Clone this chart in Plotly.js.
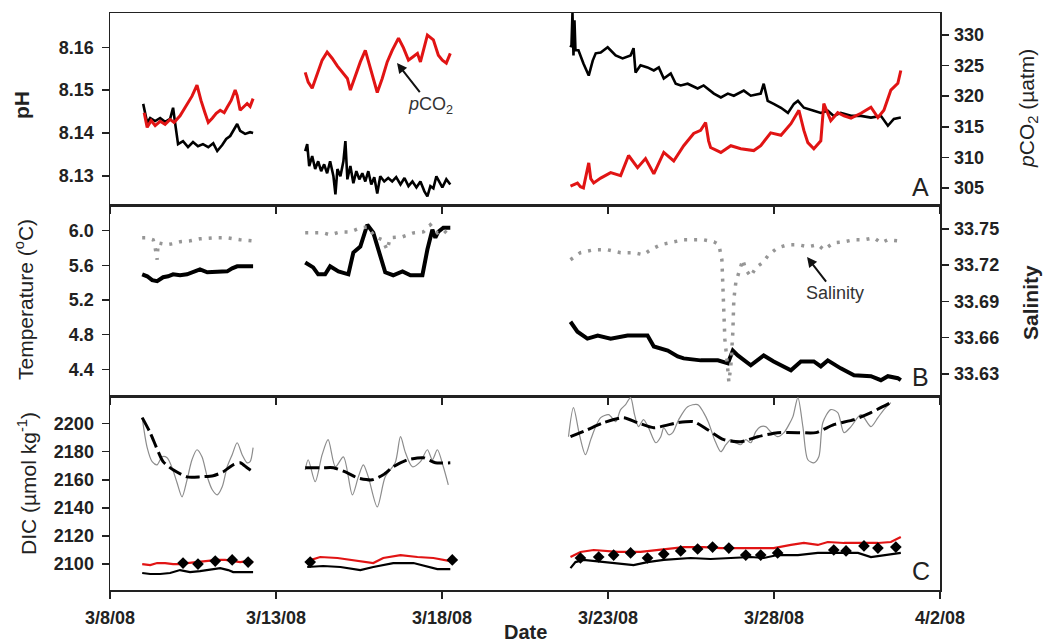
<!DOCTYPE html>
<html>
<head>
<meta charset="utf-8">
<script src="https://cdn.plot.ly/plotly-3.0.1.min.js"></script>
<style>html,body{margin:0;padding:0;background:#fff}#chart{width:1044px;height:642px}</style>
</head>
<body>
<div id="chart"></div>
<script>
// ---- DATA (time = day of March 2008, decimal; null separates deployment segments) ----
const tickDays = [8, 13, 18, 23, 28, 33];
const tickLabels = ["3/8/08", "3/13/08", "3/18/08", "3/23/08", "3/28/08", "4/2/08"];

// Panel A: pH (black)
const phDay = [9.00,9.12,9.21,9.36,9.51,9.66,9.81,9.90,9.96,10.05,10.20,10.35,10.50,10.65,10.80,10.96,11.11,11.23,11.38,11.50,11.62,11.74,11.83,11.92,12.07,12.22,12.31,
  null,
  13.88,13.94,14.00,14.09,14.18,14.27,14.36,14.45,14.54,14.63,14.73,14.79,14.85,14.94,15.03,15.09,15.15,15.24,15.33,15.42,15.51,15.60,15.69,15.78,15.87,15.96,16.05,16.14,16.26,16.38,16.50,16.62,16.75,16.87,16.99,17.11,17.23,17.35,17.47,17.56,17.65,17.74,17.83,17.92,18.01,18.13,18.25,
  null,
  21.87,21.90,21.93,21.96,21.99,22.02,22.11,22.26,22.42,22.54,22.63,22.78,22.99,23.08,23.23,23.44,23.68,23.77,23.83,23.98,24.19,24.38,24.53,24.68,24.89,25.04,25.19,25.40,25.70,25.88,26.19,26.40,26.61,26.79,27.09,27.30,27.60,27.69,27.81,27.99,28.21,28.42,28.60,28.72,28.90,29.20,29.41,29.62,29.80,30.01,30.32,30.62,30.92,31.22,31.43,31.61,31.82];
const phVal = [8.1468,8.1424,8.1435,8.1428,8.1435,8.1426,8.1433,8.1459,8.1424,8.1374,8.1381,8.1367,8.1379,8.1369,8.1374,8.1367,8.1376,8.1358,8.1372,8.1386,8.1393,8.1409,8.1421,8.1405,8.1398,8.1402,8.1400,
  null,
  8.1358,8.1374,8.1323,8.1346,8.1316,8.1334,8.1311,8.1327,8.1306,8.1334,8.1299,8.1257,8.1316,8.1299,8.1334,8.1381,8.1292,8.1323,8.1283,8.1311,8.1292,8.1306,8.1287,8.1311,8.1280,8.1297,8.1259,8.1299,8.1287,8.1295,8.1287,8.1297,8.1280,8.1295,8.1276,8.1287,8.1273,8.1287,8.1264,8.1252,8.1276,8.1271,8.1299,8.1287,8.1273,8.1292,8.1280,
  null,
  8.1600,8.1605,8.1680,8.1581,8.1663,8.1593,8.1593,8.1562,8.1534,8.1569,8.1586,8.1588,8.1600,8.1593,8.1581,8.1574,8.1581,8.1598,8.1541,8.1558,8.1553,8.1546,8.1553,8.1527,8.1539,8.1515,8.1511,8.1515,8.1504,8.1511,8.1492,8.1483,8.1492,8.1487,8.1499,8.1487,8.1492,8.1515,8.1475,8.1468,8.1459,8.1447,8.1468,8.1475,8.1459,8.1452,8.1447,8.1452,8.1440,8.1447,8.1440,8.1440,8.1436,8.1440,8.1417,8.1433,8.1436];

// Panel A: pCO2 (red, right axis)
const pco2Day = [9.03,9.12,9.24,9.36,9.51,9.66,9.81,9.93,10.11,10.29,10.47,10.62,10.74,10.86,10.96,11.08,11.20,11.32,11.44,11.53,11.65,11.77,11.83,11.92,12.04,12.13,12.22,12.31,
  null,
  13.88,13.97,14.09,14.27,14.39,14.54,14.69,14.85,15.00,15.15,15.24,15.39,15.54,15.69,15.81,15.93,16.05,16.20,16.35,16.50,16.69,16.84,16.99,17.14,17.26,17.35,17.47,17.56,17.74,17.89,18.01,18.13,18.25,
  null,
  21.87,22.08,22.17,22.26,22.42,22.48,22.57,22.78,23.08,23.38,23.62,23.89,24.13,24.38,24.68,24.98,25.28,25.58,25.79,25.94,26.03,26.09,26.40,26.70,27.00,27.39,27.60,27.90,28.21,28.51,28.75,28.90,29.02,29.20,29.41,29.50,29.71,29.92,30.11,30.32,30.62,30.92,31.13,31.31,31.52,31.73,31.82];
const pco2Val = [317.3,314.9,316.0,315.2,315.9,315.4,316.2,315.7,316.8,318.3,320.0,321.8,319.3,317.3,315.7,316.4,317.2,317.7,317.3,318.2,319.3,321.0,320.1,317.7,318.3,318.8,318.3,319.6,
  null,
  323.9,322.3,321.3,323.9,325.9,327.2,326.2,324.9,323.9,322.9,321.0,323.4,325.6,327.5,325.1,322.6,320.6,322.9,325.6,327.5,329.5,327.9,325.9,326.5,327.0,325.6,328.4,330.0,329.2,326.7,325.9,325.4,327.0,
  null,
  305.3,305.8,305.2,305.0,309.1,306.5,305.8,306.6,307.5,307.0,310.3,308.3,309.8,307.3,310.8,309.4,311.9,313.9,314.4,315.7,312.7,311.6,310.8,311.9,311.4,311.1,311.9,314.0,313.6,315.5,317.7,314.4,312.4,311.4,312.7,318.8,316.0,317.3,316.8,316.4,317.2,318.2,316.5,317.7,321.0,322.1,324.2];

// Panel B: temperature (black)
const tempDay = [8.97,9.12,9.27,9.42,9.60,9.75,9.90,10.11,10.32,10.50,10.71,10.93,11.11,11.32,11.53,11.68,11.83,12.07,12.31,
  null,
  13.88,14.12,14.27,14.48,14.63,14.88,15.18,15.33,15.54,15.69,15.75,15.93,16.08,16.29,16.53,16.81,17.05,17.41,17.56,17.71,17.80,17.89,18.04,18.25,
  null,
  21.87,22.08,22.38,22.69,23.08,23.59,24.19,24.38,24.80,25.10,25.28,25.79,26.31,26.61,26.76,26.91,27.30,27.69,27.99,28.51,28.81,29.20,29.41,29.62,30.01,30.41,30.92,31.22,31.43,31.73,31.82];
const tempVal = [5.497,5.474,5.429,5.417,5.463,5.474,5.497,5.486,5.497,5.520,5.554,5.520,5.520,5.531,5.531,5.566,5.589,5.589,5.589,
  null,
  5.634,5.577,5.497,5.497,5.589,5.531,5.497,5.749,5.817,6.011,6.069,5.977,5.783,5.520,5.486,5.531,5.486,5.486,5.783,6.011,5.920,5.989,6.034,6.034,
  null,
  4.949,4.834,4.754,4.789,4.754,4.789,4.789,4.663,4.617,4.549,4.526,4.503,4.503,4.469,4.617,4.560,4.446,4.560,4.491,4.389,4.491,4.491,4.434,4.503,4.411,4.331,4.320,4.274,4.320,4.297,4.274];

// Panel B: salinity (grey dotted, right axis)
const salDay = [8.97,9.12,9.30,9.36,9.42,9.45,9.57,9.72,9.90,10.11,10.41,10.71,11.11,11.53,11.92,12.28,
  null,
  13.88,14.42,14.63,14.94,15.24,15.54,15.75,15.99,16.20,16.35,16.44,16.81,17.14,17.44,17.65,17.86,18.04,18.25,
  null,
  21.87,22.17,22.57,22.99,23.38,23.77,24.07,24.28,24.59,24.98,25.28,25.58,25.88,26.19,26.34,26.43,26.46,26.49,26.52,26.58,26.64,26.70,26.76,26.79,26.85,26.94,27.06,27.15,27.30,27.45,27.66,27.84,28.11,28.42,28.72,29.02,29.32,29.50,29.80,30.11,30.41,30.71,31.01,31.22,31.43,31.73];
const salVal = [33.7426,33.7426,33.7410,33.7344,33.7245,33.7385,33.7377,33.7369,33.7377,33.7393,33.7401,33.7418,33.7426,33.7426,33.7410,33.7401,
  null,
  33.7467,33.7467,33.7451,33.7475,33.7475,33.7508,33.7516,33.7434,33.7410,33.7327,33.7426,33.7434,33.7467,33.7475,33.7533,33.7467,33.7492,33.7434,
  null,
  33.7245,33.7303,33.7327,33.7327,33.7303,33.7303,33.7286,33.7327,33.7369,33.7393,33.7410,33.7410,33.7410,33.7393,33.7369,33.7245,33.7023,33.6777,33.6588,33.6424,33.6235,33.6366,33.6645,33.6917,33.7056,33.7138,33.7245,33.7163,33.7106,33.7180,33.7221,33.7286,33.7344,33.7369,33.7369,33.7352,33.7369,33.7327,33.7385,33.7393,33.7410,33.7410,33.7426,33.7385,33.7410,33.7401];

// Panel C: measured-derived DIC (thin grey)
const dicObsDay = [8.97,9.12,9.27,9.42,9.57,9.72,9.87,10.02,10.17,10.32,10.47,10.62,10.77,10.93,11.08,11.23,11.38,11.53,11.68,11.83,11.98,12.13,12.22,12.31,
  null,
  13.88,13.97,14.18,14.39,14.57,14.79,15.03,15.30,15.48,15.63,15.78,16.05,16.29,16.59,16.75,16.90,17.11,17.35,17.56,17.71,17.86,18.04,18.19,
  null,
  21.81,21.96,22.14,22.32,22.48,22.63,22.78,23.02,23.23,23.38,23.53,23.68,23.80,23.92,24.07,24.22,24.44,24.59,24.68,24.83,24.95,25.13,25.40,25.70,25.88,26.03,26.21,26.40,26.55,26.70,26.85,27.00,27.15,27.30,27.45,27.60,27.75,27.90,28.11,28.30,28.45,28.57,28.72,28.87,29.02,29.20,29.35,29.47,29.71,29.92,30.11,30.32,30.62,30.92,31.13,31.31,31.52];
const dicObsVal = [2204.3,2182.9,2172.9,2170.7,2176.4,2175.7,2168.6,2157.9,2147.9,2160.0,2174.3,2181.4,2176.4,2162.1,2152.9,2149.3,2155.0,2169.3,2177.9,2186.4,2177.9,2172.1,2172.9,2182.9,
  null,
  2167.1,2174.3,2158.6,2177.9,2188.6,2169.3,2176.4,2149.3,2162.1,2170.7,2162.1,2140.7,2162.1,2172.1,2190.7,2179.3,2169.3,2172.9,2181.4,2174.3,2181.4,2169.3,2156.4,
  null,
  2190.7,2211.4,2192.1,2177.9,2188.6,2197.9,2204.3,2206.4,2201.4,2210.0,2213.6,2218.6,2206.4,2197.9,2202.9,2197.1,2186.4,2190.7,2197.1,2192.1,2193.6,2202.9,2212.1,2213.6,2207.9,2200.7,2188.6,2180.0,2185.0,2188.6,2186.4,2185.0,2188.6,2186.4,2194.3,2197.9,2197.9,2194.3,2190.7,2193.6,2199.3,2205.0,2218.6,2197.9,2174.3,2172.1,2176.4,2200.7,2210.0,2207.9,2193.6,2197.9,2206.4,2197.9,2204.3,2210.0,2215.0];

// Panel C: smoothed DIC (black dashed)
const dicSmDay = [8.97,9.21,9.60,9.90,10.32,10.71,11.11,11.41,11.71,11.92,12.13,12.31,
  null,
  13.88,14.42,14.73,15.15,15.45,15.90,16.23,16.53,16.96,17.44,17.80,18.25,
  null,
  21.87,22.38,22.87,23.47,23.89,24.38,25.10,25.58,26.00,26.49,27.00,27.51,28.11,28.72,29.26,29.80,30.41,30.92,31.52];
const dicSmVal = [2204.3,2193.6,2172.9,2167.1,2162.1,2162.1,2162.9,2165.7,2170.7,2172.1,2168.6,2165.7,
  null,
  2168.6,2168.6,2168.6,2165.0,2161.4,2160.0,2163.6,2169.3,2174.3,2175.7,2172.1,2172.1,
  null,
  2190.7,2195.7,2200.7,2204.3,2200.7,2197.1,2200.7,2201.4,2195.7,2188.6,2187.1,2190.7,2193.6,2193.6,2193.6,2199.3,2202.9,2207.9,2215.0];

// Panel C: lower DIC series (red)
const dicRedDay = [8.97,9.21,9.42,9.66,9.90,10.11,10.32,10.56,10.71,10.96,11.23,11.47,11.71,11.92,12.13,12.31,
  null,
  13.94,14.33,14.85,15.45,15.93,16.23,16.75,17.26,17.74,18.25,
  null,
  21.87,22.17,22.57,23.29,23.98,24.59,25.28,25.88,26.40,26.91,27.39,27.99,28.51,28.90,29.32,29.62,30.11,30.62,31.13,31.52,31.82];
const dicRedVal = [2100.0,2099.3,2100.7,2100.7,2100.0,2100.0,2100.7,2101.4,2101.4,2102.1,2102.9,2102.9,2102.1,2101.4,2102.1,2101.4,
  null,
  2102.1,2105.0,2104.3,2102.1,2100.7,2104.3,2106.4,2105.0,2104.3,2102.1,
  null,
  2105.0,2108.6,2110.0,2108.6,2108.6,2110.0,2112.1,2112.1,2111.4,2111.4,2111.4,2111.4,2113.6,2115.0,2113.6,2115.7,2115.0,2115.0,2115.0,2115.7,2119.3];

// Panel C: lower DIC series (black)
const dicBlkDay = [8.97,9.21,9.51,9.81,10.11,10.41,10.71,10.93,11.32,11.56,11.71,12.01,12.31,
  null,
  13.94,14.42,14.94,15.54,15.93,16.53,17.14,17.56,17.86,18.25,
  null,
  21.87,22.02,22.26,22.87,23.29,23.77,24.19,24.68,25.49,26.09,26.70,27.30,27.69,28.11,28.72,29.32,29.92,30.53,30.92,31.31,31.82];
const dicBlkVal = [2093.6,2092.9,2092.9,2093.6,2095.7,2094.3,2095.0,2095.7,2097.1,2095.7,2094.3,2094.3,2094.3,
  null,
  2097.9,2098.6,2097.9,2095.7,2097.9,2100.7,2100.7,2097.9,2096.4,2096.4,
  null,
  2097.1,2101.4,2102.9,2101.4,2100.7,2099.3,2101.4,2102.9,2104.3,2103.6,2104.3,2105.0,2104.3,2106.4,2106.4,2107.9,2107.9,2107.9,2105.0,2106.4,2107.9];

// Panel C: discrete samples (black diamonds)
const sampleDay = [10.20,10.65,11.17,11.68,12.16,14.03,18.31,22.17,22.72,23.17,23.68,24.19,24.68,25.19,25.70,26.15,26.64,27.15,27.60,28.11,29.80,30.17,30.71,31.13,31.67];
const sampleVal = [2100.7,2100.0,2102.1,2102.9,2101.4,2101.4,2102.9,2104.3,2105.0,2106.4,2107.9,2104.3,2107.1,2109.3,2110.7,2112.1,2111.4,2106.4,2106.4,2107.9,2110.0,2109.3,2112.9,2111.4,2112.1];

// ---- helpers ----
const BASE = Date.UTC(2008, 2, 0);
function toDate(d) {
  if (d === null) return null;
  return new Date(BASE + d * 86400000).toISOString().replace('T', ' ').slice(0, 19);
}
const D = arr => arr.map(toDate);

const FONT = 'Liberation Sans, Arial, Helvetica, sans-serif';
const RED = 'rgb(225,20,20)';

const traces = [
  {x: D(phDay), y: phVal, xaxis: 'x', yaxis: 'y', mode: 'lines', line: {color: '#000', width: 2.6}, connectgaps: false},
  {x: D(pco2Day), y: pco2Val, xaxis: 'x', yaxis: 'y4', mode: 'lines', line: {color: RED, width: 3}, connectgaps: false},
  {x: D(tempDay), y: tempVal, xaxis: 'x2', yaxis: 'y2', mode: 'lines', line: {color: '#000', width: 4}, connectgaps: false},
  {x: D(salDay), y: salVal, xaxis: 'x2', yaxis: 'y5', mode: 'lines', line: {color: 'rgb(150,150,150)', width: 3.5, dash: '3px,7px'}, connectgaps: false},
  {x: D(dicObsDay), y: dicObsVal, xaxis: 'x3', yaxis: 'y3', mode: 'lines', line: {color: 'rgb(140,140,140)', width: 1.2, shape: 'spline', smoothing: 0.8}, connectgaps: false},
  {x: D(dicSmDay), y: dicSmVal, xaxis: 'x3', yaxis: 'y3', mode: 'lines', line: {color: '#000', width: 3, dash: '14px,5px', shape: 'spline', smoothing: 0.6}, connectgaps: false},
  {x: D(dicRedDay), y: dicRedVal, xaxis: 'x3', yaxis: 'y3', mode: 'lines', line: {color: RED, width: 2.2}, connectgaps: false},
  {x: D(dicBlkDay), y: dicBlkVal, xaxis: 'x3', yaxis: 'y3', mode: 'lines', line: {color: '#000', width: 2.2}, connectgaps: false},
  {x: D(sampleDay), y: sampleVal, xaxis: 'x3', yaxis: 'y3', mode: 'markers', marker: {symbol: 'diamond', size: 9, color: '#000'}}
];

const axisBase = {
  showline: true, linecolor: '#222', linewidth: 1.5, mirror: true,
  ticks: 'outside', ticklen: 7, tickwidth: 1.5, tickcolor: '#222',
  showgrid: false, zeroline: false,
  tickfont: {family: FONT, size: 18, color: '#222', weight: 700}
};
const xRange = [toDate(tickDays[0]), toDate(tickDays[tickDays.length - 1])];
const xBase = Object.assign({}, axisBase, {
  type: 'date', range: xRange, domain: [0, 1],
  tickmode: 'array', tickvals: D(tickDays), ticktext: tickLabels
});

const layout = {
  width: 1044, height: 642,
  margin: {l: 110, r: 104, t: 13, b: 52},
  paper_bgcolor: '#fff', plot_bgcolor: '#fff',
  showlegend: false,
  font: {family: FONT, color: '#222'},
  xaxis: Object.assign({}, xBase, {anchor: 'y', showticklabels: false}),
  xaxis2: Object.assign({}, xBase, {anchor: 'y2', showticklabels: false}),
  xaxis3: Object.assign({}, xBase, {anchor: 'y3', showticklabels: true, ticklabelstandoff: 4}),
  yaxis: Object.assign({}, axisBase, {domain: [0.6672, 1], anchor: 'x', range: [8.1232, 8.168],
    tickmode: 'array', tickvals: [8.13, 8.14, 8.15, 8.16], tickformat: '.2f', ticklabelstandoff: 4}),
  yaxis4: Object.assign({}, axisBase, {overlaying: 'y', side: 'right', anchor: 'x', range: [302.2, 333.6],
    tickmode: 'array', tickvals: [305, 310, 315, 320, 325, 330], ticklabelstandoff: 2}),
  yaxis2: Object.assign({}, axisBase, {domain: [0.3345, 0.6672], anchor: 'x2', range: [4.08, 6.297],
    tickmode: 'array', tickvals: [4.4, 4.8, 5.2, 5.6, 6.0], tickformat: '.1f', ticklabelstandoff: 4}),
  yaxis5: Object.assign({}, axisBase, {overlaying: 'y2', side: 'right', anchor: 'x2', range: [33.611, 33.7697],
    tickmode: 'array', tickvals: [33.63, 33.66, 33.69, 33.72, 33.75], tickformat: '.2f', ticklabelstandoff: 2}),
  yaxis3: Object.assign({}, axisBase, {domain: [0, 0.3345], anchor: 'x3', range: [2081.5, 2219],
    tickmode: 'array', tickvals: [2100, 2120, 2140, 2160, 2180, 2200], ticklabelstandoff: 4}),
  annotations: [
    {text: 'pH', xref: 'paper', yref: 'paper', x: -0.106, y: 0.8406, textangle: -90, showarrow: false,
     xanchor: 'center', yanchor: 'middle', font: {family: FONT, size: 21, color: '#222', weight: 700}},
    {text: 'Temperature (<sup>o</sup>C)', xref: 'paper', yref: 'paper', x: -0.1036, y: 0.5026, textangle: -90, showarrow: false,
     xanchor: 'center', yanchor: 'middle', font: {family: FONT, size: 21, color: '#222'}},
    {text: 'DIC (\u00b5mol kg<sup>-1</sup>)', xref: 'paper', yref: 'paper', x: -0.1, y: 0.1837, textangle: -90, showarrow: false,
     xanchor: 'center', yanchor: 'middle', font: {family: FONT, size: 21, color: '#222'}},
    {text: '<i>p</i>CO<sub>2</sub> (\u00b5atm)', xref: 'paper', yref: 'paper', x: 1.106, y: 0.8354, textangle: -90, showarrow: false,
     xanchor: 'center', yanchor: 'middle', font: {family: FONT, size: 21, color: '#222'}},
    {text: 'Salinity', xref: 'paper', yref: 'paper', x: 1.1084, y: 0.4991, textangle: -90, showarrow: false,
     xanchor: 'center', yanchor: 'middle', font: {family: FONT, size: 21, color: '#222', weight: 700}},
    {text: 'Date', xref: 'paper', yref: 'paper', x: 0.5, y: -0.0728, showarrow: false,
     xanchor: 'center', yanchor: 'middle', font: {family: FONT, size: 20, color: '#222', weight: 700}},
    {text: 'A', xref: 'paper', yref: 'paper', x: 0.977, y: 0.6984, showarrow: false,
     xanchor: 'center', yanchor: 'middle', font: {family: FONT, size: 25, color: '#222'}},
    {text: 'B', xref: 'paper', yref: 'paper', x: 0.976, y: 0.369, showarrow: false,
     xanchor: 'center', yanchor: 'middle', font: {family: FONT, size: 25, color: '#222'}},
    {text: 'C', xref: 'paper', yref: 'paper', x: 0.977, y: 0.0329, showarrow: false,
     xanchor: 'center', yanchor: 'middle', font: {family: FONT, size: 25, color: '#222'}},
    {text: '<i>p</i>CO<sub>2</sub>', xref: 'paper', yref: 'paper', x: 0.3458, y: 0.9133, ax: 33, ay: 42,
     showarrow: true, arrowhead: 2, arrowsize: 1, arrowwidth: 2, arrowcolor: '#111', standoff: 0,
     font: {family: FONT, size: 18, color: '#333'}},
    {text: 'Salinity', xref: 'paper', yref: 'paper', x: 0.8398, y: 0.5771, ax: 28, ay: 36,
     showarrow: true, arrowhead: 2, arrowsize: 1, arrowwidth: 2, arrowcolor: '#111', standoff: 0,
     font: {family: FONT, size: 18, color: '#333'}}
  ]
};

Plotly.newPlot('chart', traces, layout, {staticPlot: true, displayModeBar: false});
</script>
</body>
</html>
